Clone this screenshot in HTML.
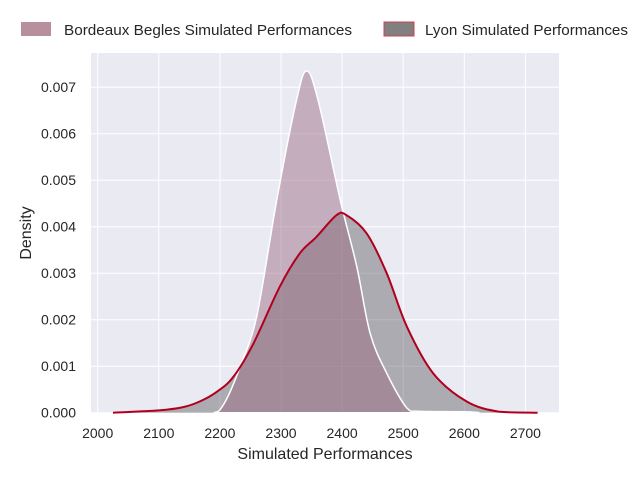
<!DOCTYPE html>
<html><head><meta charset="utf-8"><style>
body{margin:0;background:#fff;}
svg{display:block;font-family:"Liberation Sans",sans-serif;}
</style></head><body>
<svg id="s" width="640" height="480" xmlns="http://www.w3.org/2000/svg">
<rect x="91" y="53" width="468" height="360" fill="#eaeaf2"/>
<g id="grid" stroke="#fff" stroke-width="1"></g>
<path id="lyon" fill="rgba(100,95,100,0.45)" stroke="none"/>
<path id="bord" fill="rgba(150,100,125,0.45)" stroke="#fff" stroke-width="1.5"/>
<path id="lyonl" fill="none" stroke="#b0001e" stroke-width="2"/>
<g id="lab" font-size="14" fill="#262626"></g>
<text x="325" y="459" font-size="16" fill="#262626" text-anchor="middle">Simulated Performances</text>
<text transform="translate(31,233) rotate(-90)" font-size="16" fill="#262626" text-anchor="middle">Density</text>
<rect x="21" y="22" width="30" height="14" fill="#b88f9c"/>
<text x="64" y="35" font-size="15" fill="#262626" textLength="288" lengthAdjust="spacingAndGlyphs">Bordeaux Begles Simulated Performances</text>
<rect x="384" y="22" width="30" height="14" fill="#808080" stroke="#d04050" stroke-width="1"/>
<text x="425" y="35" font-size="15" fill="#262626" textLength="203" lengthAdjust="spacingAndGlyphs">Lyon Simulated Performances</text>
</svg>
<script>
var X=v=>97.7+0.611*(v-2000), Y=d=>412.7-46.5*d*1000;
var g=document.getElementById('grid'),lab=document.getElementById('lab'),h='',l='';
for(var v=2000;v<=2700;v+=100){h+='<line x1="'+X(v)+'" x2="'+X(v)+'" y1="53" y2="413"/>';l+='<text x="'+X(v)+'" y="438" text-anchor="middle">'+v+'</text>';}
for(var k=0;k<=7;k++){var y=Y(k/1000);h+='<line x1="91" x2="559" y1="'+y+'" y2="'+y+'"/>';l+='<text x="76" y="'+(y+5)+'" text-anchor="end">'+(k/1000).toFixed(3)+'</text>';}
g.innerHTML=h;lab.innerHTML=l;
var Bp=[[2190,0],[2200,0.00006],[2215,0.0004],[2233,0.00099],[2260,0.00206],[2293,0.00457],[2325,0.0067],[2342,0.00735],[2361,0.0067],[2397,0.00457],[2424,0.00314],[2446,0.0017],[2473,0.00085],[2506,0.0001],[2525,0.00003],[2600,0.00002],[2625,0]];
var Lp=[[2025,0],[2100,0.00005],[2140,0.00012],[2167,0.00024],[2195,0.00045],[2222,0.00077],[2255,0.00149],[2298,0.00271],[2331,0.00343],[2358,0.00378],[2391,0.00425],[2407,0.00425],[2440,0.00386],[2473,0.003],[2506,0.00185],[2549,0.00085],[2604,0.00024],[2658,0.00002],[2720,0]];
function path(pts,close){
 var P=pts.map(p=>[X(p[0]),Y(p[1])]);
 var d='M'+P[0][0].toFixed(1)+','+P[0][1].toFixed(1);
 for(var i=0;i<P.length-1;i++){
  var p0=P[Math.max(i-1,0)],p1=P[i],p2=P[i+1],p3=P[Math.min(i+2,P.length-1)];
  var c1=[p1[0]+(p2[0]-p0[0])/6,Math.min(412.7,p1[1]+(p2[1]-p0[1])/6)];
  var c2=[p2[0]-(p3[0]-p1[0])/6,Math.min(412.7,p2[1]-(p3[1]-p1[1])/6)];
  d+='C'+c1.map(v=>v.toFixed(1)).join(',')+' '+c2.map(v=>v.toFixed(1)).join(',')+' '+p2.map(v=>v.toFixed(1)).join(',');
 }
 if(close)d+='Z';
 return d;
}
document.getElementById('lyon').setAttribute('d',path(Lp,true));
document.getElementById('lyonl').setAttribute('d',path(Lp,false));
document.getElementById('bord').setAttribute('d',path(Bp,true));
</script>
</body></html>
